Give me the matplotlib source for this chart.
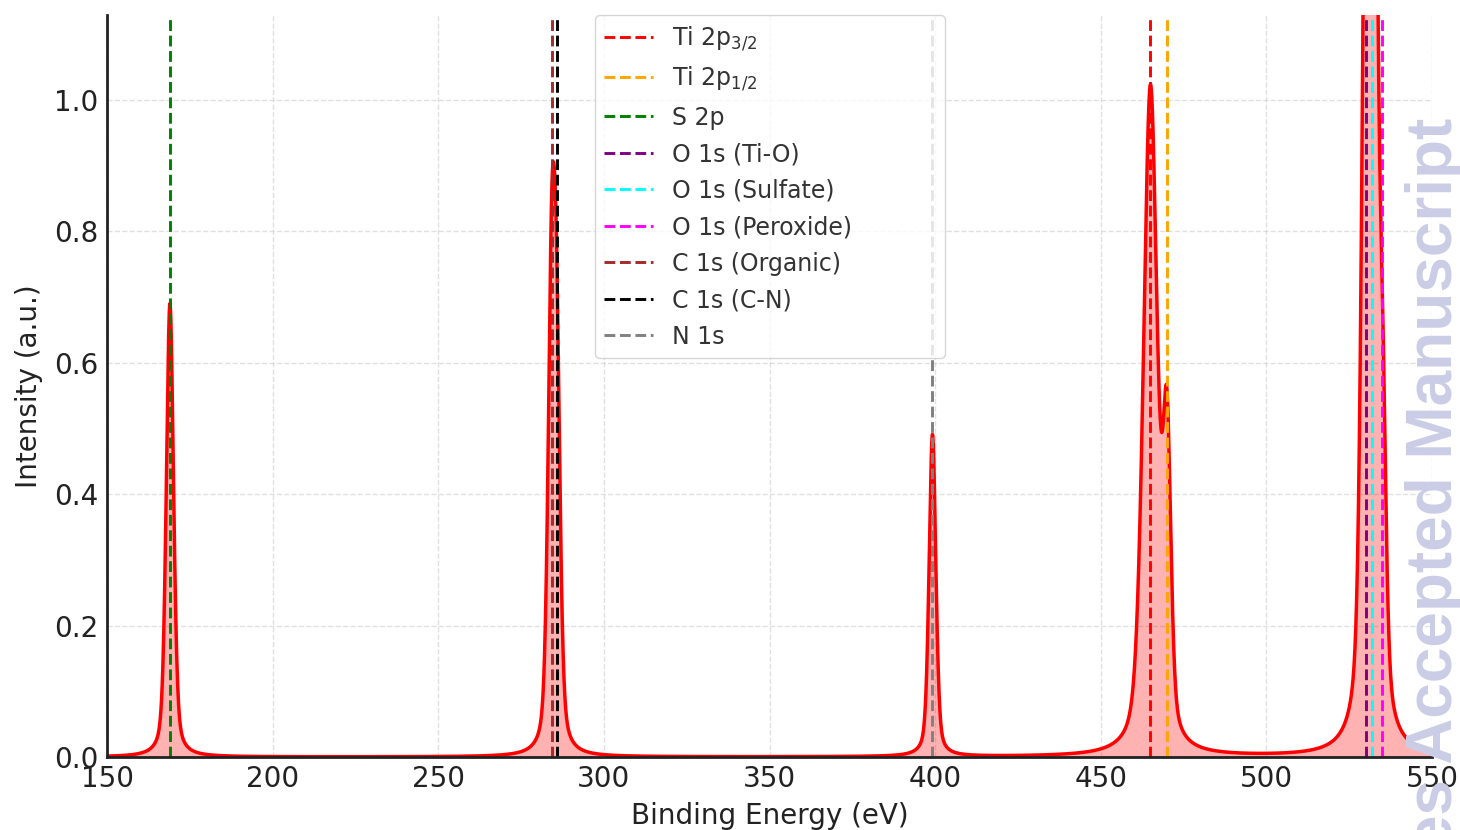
import numpy as np
import matplotlib
matplotlib.use('Agg')  # Use non-interactive backend
import matplotlib.pyplot as plt

# Peak assignments (label, centre in eV, height, FWHM in eV, line colour)
labels = ['Ti 2p$_{3/2}$', 'Ti 2p$_{1/2}$', 'S 2p', 'O 1s (Ti-O)',
          'O 1s (Sulfate)', 'O 1s (Peroxide)', 'C 1s (Organic)',
          'C 1s (C-N)', 'N 1s']
centers = [465.0, 470.0, 169.0, 530.0, 532.0, 535.0, 284.2, 285.7, 399.2]
heights = [1.01, 0.44, 0.69, 1.06, 2.06, 0.44, 0.63, 0.53, 0.49]
fwhm = [5.0, 2.8, 2.6, 3.0, 3.0, 2.5, 2.6, 2.6, 2.4]
colors = ['red', 'orange', 'green', 'purple', 'cyan', 'magenta',
          'brown', 'black', 'gray']

x_ticks = [150, 200, 250, 300, 350, 400, 450, 500, 550]
y_ticks = [0.0, 0.2, 0.4, 0.6, 0.8, 1.0]


def pseudo_voigt(x, x0, amp, width, eta=0.4):
    """Mixed Lorentzian/Gaussian line shape with the given FWHM."""
    dx = x - x0
    lor = 1.0 / (1.0 + (2.0 * dx / width) ** 2)
    gau = np.exp(-4.0 * np.log(2) * dx ** 2 / width ** 2)
    return amp * (eta * lor + (1 - eta) * gau)


energy = np.linspace(150, 550, 6000)
spectrum = np.zeros_like(energy)
for c, h, w in zip(centers, heights, fwhm):
    spectrum += pseudo_voigt(energy, c, h, w)

fig = plt.figure(figsize=(14.6, 8.3), dpi=100)
ax = fig.add_axes([107 / 1460, 73 / 830, 1325 / 1460, 742 / 830])

ax.plot(energy, spectrum, color='red', lw=2.5, zorder=3)
ax.fill_between(energy, spectrum, color='red', alpha=0.3, lw=0, zorder=2)

for c, lab, col in zip(centers, labels, colors):
    ax.axvline(c, color=col, ls='--', lw=2.1, label=lab, zorder=4)

ax.set_xlim(150, 550)
ax.set_ylim(0, 1.129)
ax.set_xticks(x_ticks)
ax.set_yticks(y_ticks)
ax.tick_params(length=0, labelsize=20, pad=6, colors='#222222')
ax.set_xlabel('Binding Energy (eV)', fontsize=20, color='#222222', labelpad=6)
ax.set_ylabel('Intensity (a.u.)', fontsize=20, color='#222222', labelpad=8)
ax.grid(True, ls='--', color='#cccccc', alpha=0.6, lw=1)
ax.set_axisbelow(True)

for side in ['top', 'right']:
    ax.spines[side].set_visible(False)
for side in ['left', 'bottom']:
    ax.spines[side].set_color('#222222')
    ax.spines[side].set_linewidth(2)
    ax.spines[side].set_zorder(5)

leg = ax.legend(loc='upper left', bbox_to_anchor=(0.3683, 0.0, 0.2642, 1.0),
                mode='expand', borderaxespad=0, fontsize=17, framealpha=0.8,
                handlelength=2.05, labelspacing=0.53)
leg.get_frame().set_edgecolor('#cccccc')
for t in leg.get_texts():
    t.set_color('#333333')

# journal watermark along the right edge
fig.text(1452 / 1460, (830 - 118) / 830, 'Advances Accepted Manuscript',
         rotation=90, rotation_mode='anchor', ha='right', va='baseline',
         fontsize=46, fontweight='bold', family='Liberation Sans',
         color='#cbcde6', zorder=10)

fig.savefig('out.png', dpi=100)
